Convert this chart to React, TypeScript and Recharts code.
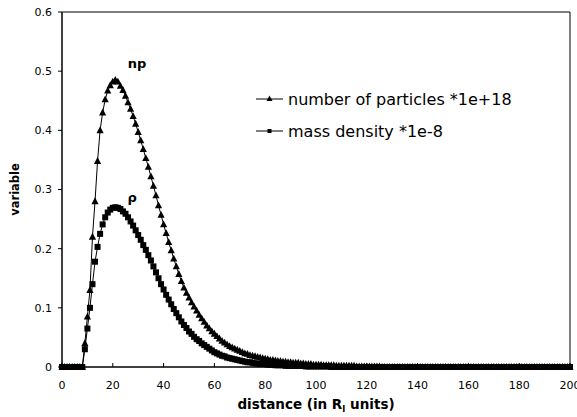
import {
  LineChart,
  Line,
  XAxis,
  YAxis,
  Legend,
  ReferenceArea,
  ReferenceDot,
} from 'recharts';

const distance = [
  0, 1, 2, 3, 4, 5, 6, 7, 8, 9,
  10, 11, 12, 13, 14, 15, 16, 17, 18, 19,
  20, 21, 22, 23, 24, 25, 26, 27, 28, 29,
  30, 31, 32, 33, 34, 35, 36, 37, 38, 39,
  40, 41, 42, 43, 44, 45, 46, 47, 48, 49,
  50, 51, 52, 53, 54, 55, 56, 57, 58, 59,
  60, 61, 62, 63, 64, 65, 66, 67, 68, 69,
  70, 71, 72, 73, 74, 75, 76, 77, 78, 79,
  80, 81, 82, 83, 84, 85, 86, 87, 88, 89,
  90, 91, 92, 93, 94, 95, 96, 97, 98, 99,
  100, 101, 102, 103, 104, 105, 106, 107, 108, 109,
  110, 111, 112, 113, 114, 115, 116, 117, 118, 119,
  120, 121, 122, 123, 124, 125, 126, 127, 128, 129,
  130, 131, 132, 133, 134, 135, 136, 137, 138, 139,
  140, 141, 142, 143, 144, 145, 146, 147, 148, 149,
  150, 151, 152, 153, 154, 155, 156, 157, 158, 159,
  160, 161, 162, 163, 164, 165, 166, 167, 168, 169,
  170, 171, 172, 173, 174, 175, 176, 177, 178, 179,
  180, 181, 182, 183, 184, 185, 186, 187, 188, 189,
  190, 191, 192, 193, 194, 195, 196, 197, 198, 199,
  200,
];

// number of particles *1e+18
const numberOfParticles = [
  0, 0, 0, 0, 0, 0, 0, 0, 0, 0.04,
  0.085, 0.13, 0.22, 0.28, 0.348, 0.4, 0.43, 0.452, 0.467, 0.476,
  0.482, 0.485, 0.482, 0.475, 0.468, 0.458, 0.447, 0.436, 0.424, 0.411,
  0.397, 0.383, 0.368, 0.353, 0.338, 0.322, 0.306, 0.29, 0.273, 0.257,
  0.241, 0.226, 0.211, 0.197, 0.183, 0.17, 0.157, 0.145, 0.134, 0.125,
  0.117, 0.109, 0.102, 0.095, 0.088, 0.082, 0.076, 0.07, 0.065, 0.06,
  0.056, 0.052, 0.048, 0.044, 0.041, 0.038, 0.035, 0.033, 0.031, 0.029,
  0.027, 0.025, 0.023, 0.022, 0.02, 0.019, 0.018, 0.017, 0.016, 0.015,
  0.014, 0.013, 0.012, 0.012, 0.011, 0.01, 0.01, 0.009, 0.009, 0.008,
  0.008, 0.007, 0.007, 0.007, 0.006, 0.006, 0.005, 0.005, 0.005, 0.004,
  0.004, 0.004, 0.004, 0.003, 0.003, 0.003, 0.003, 0.003, 0.002, 0.002,
  0.002, 0.002, 0.002, 0.002, 0.002, 0.002, 0.001, 0.001, 0.001, 0.001,
  0.001, 0.001, 0.001, 0.001, 0.001, 0.001, 0, 0, 0, 0,
  0, 0, 0, 0, 0, 0, 0, 0, 0, 0,
  0, 0, 0, 0, 0, 0, 0, 0, 0, 0,
  0, 0, 0, 0, 0, 0, 0, 0, 0, 0,
  0, 0, 0, 0, 0, 0, 0, 0, 0, 0,
  0, 0, 0, 0, 0, 0, 0, 0, 0, 0,
  0, 0, 0, 0, 0, 0, 0, 0, 0, 0,
  0, 0, 0, 0, 0, 0, 0, 0, 0, 0,
  0,
];

// mass density *1e-8
const massDensity = [
  0, 0, 0, 0, 0, 0, 0, 0, 0, 0.03,
  0.065, 0.1, 0.14, 0.178, 0.203, 0.225, 0.241, 0.253, 0.261, 0.266,
  0.269, 0.27, 0.269, 0.267, 0.263, 0.259, 0.253, 0.246, 0.239, 0.231,
  0.223, 0.215, 0.206, 0.198, 0.189, 0.18, 0.17, 0.16, 0.15, 0.14,
  0.131, 0.122, 0.114, 0.106, 0.098, 0.091, 0.084, 0.077, 0.071, 0.066,
  0.06, 0.056, 0.051, 0.047, 0.044, 0.04, 0.037, 0.034, 0.031, 0.028,
  0.025, 0.023, 0.021, 0.019, 0.018, 0.016, 0.015, 0.014, 0.013, 0.012,
  0.011, 0.01, 0.009, 0.008, 0.008, 0.007, 0.006, 0.006, 0.005, 0.005,
  0.005, 0.004, 0.004, 0.004, 0.003, 0.003, 0.003, 0.003, 0.002, 0.002,
  0.002, 0.002, 0.002, 0.002, 0.002, 0.002, 0.001, 0.001, 0.001, 0.001,
  0.001, 0.001, 0.001, 0.001, 0.001, 0.001, 0, 0, 0, 0,
  0, 0, 0, 0, 0, 0, 0, 0, 0, 0,
  0, 0, 0, 0, 0, 0, 0, 0, 0, 0,
  0, 0, 0, 0, 0, 0, 0, 0, 0, 0,
  0, 0, 0, 0, 0, 0, 0, 0, 0, 0,
  0, 0, 0, 0, 0, 0, 0, 0, 0, 0,
  0, 0, 0, 0, 0, 0, 0, 0, 0, 0,
  0, 0, 0, 0, 0, 0, 0, 0, 0, 0,
  0, 0, 0, 0, 0, 0, 0, 0, 0, 0,
  0, 0, 0, 0, 0, 0, 0, 0, 0, 0,
  0,
];

const xTicks = [0, 20, 40, 60, 80, 100, 120, 140, 160, 180, 200];
const yTicks = [0, 0.1, 0.2, 0.3, 0.4, 0.5, 0.6];
const seriesNames = ['number of particles *1e+18', 'mass density *1e-8'];
const curveLabels = [
  { text: 'np', x: 29.5, y: 0.513 },
  { text: 'ρ', x: 27.6, y: 0.287 },
];

const data = distance.map((d, i) => ({
  distance: d,
  np: numberOfParticles[i],
  rho: massDensity[i],
}));

const FONT = '"DejaVu Sans", sans-serif';

const TriangleDot = (props: any) => {
  const { cx, cy } = props;
  if (cx == null || cy == null) return null;
  return (
    <path
      d={`M${cx},${cy - 4}L${cx + 3.6},${cy + 2.8}L${cx - 3.6},${cy + 2.8}Z`}
      fill="#000"
    />
  );
};

const SquareDot = (props: any) => {
  const { cx, cy } = props;
  if (cx == null || cy == null) return null;
  return <rect x={cx - 3} y={cy - 3} width={6} height={6} fill="#000" />;
};

const XTitle = (props: any) => {
  const { x, y, width, height } = props.viewBox;
  return (
    <text
      x={x + width / 2}
      y={y + height - 8}
      textAnchor="middle"
      fontFamily={FONT}
      fontSize={13.5}
      fontWeight="bold"
      fill="#000"
    >
      distance (in R
      <tspan dy={3} fontSize={9}>
        l
      </tspan>
      <tspan dy={-3}> units)</tspan>
    </text>
  );
};

const LegendContent = () => (
  <div style={{ fontFamily: FONT, fontSize: 16, color: '#000' }}>
    {seriesNames.map((name, i) => (
      <div
        key={name}
        style={{ display: 'flex', alignItems: 'center', height: 32 }}
      >
        <svg width={28} height={12}>
          <line x1={0} y1={6} x2={27} y2={6} stroke="#000" />
          {i === 0 ? (
            <path d="M13.5,2.5L16.5,8L10.5,8Z" fill="#000" />
          ) : (
            <rect x={11.5} y={4} width={4} height={4} fill="#000" />
          )}
        </svg>
        <span style={{ marginLeft: 4, whiteSpace: 'nowrap' }}>{name}</span>
      </div>
    ))}
  </div>
);

const App = () => {
  return (
    <div
      style={{
        position: 'absolute',
        left: 0,
        top: 0,
        width: 577,
        height: 417,
        overflow: 'hidden',
        background: '#fff',
      }}
    >
      <LineChart
        width={577}
        height={417}
        data={data}
        margin={{ top: 12, right: 7, bottom: 0, left: 0 }}
      >
        <XAxis
          type="number"
          dataKey="distance"
          domain={[0, 200]}
          ticks={xTicks}
          interval={0}
          height={50}
          tickSize={-4}
          tickMargin={18}
          stroke="#000"
          tick={{ fill: '#000', fontSize: 11, fontFamily: FONT }}
          label={<XTitle />}
        />
        <YAxis
          type="number"
          domain={[0, 0.6]}
          ticks={yTicks}
          interval={0}
          width={62}
          tickSize={4}
          tickMargin={6}
          stroke="#000"
          tick={{ fill: '#000', fontSize: 11, fontFamily: FONT }}
          label={{
            value: 'variable',
            angle: -90,
            position: 'center',
            dx: -16,
            fontFamily: FONT,
            fontSize: 11.5,
            fontWeight: 'bold',
            fill: '#000',
          }}
        />
        <ReferenceArea
          x1={0}
          x2={200}
          y1={0}
          y2={0.6}
          fill="none"
          stroke="#000"
          strokeWidth={1}
          ifOverflow="visible"
        />
        <Line
          dataKey="np"
          stroke="#000"
          strokeWidth={1}
          dot={<TriangleDot />}
          activeDot={false}
          isAnimationActive={false}
        />
        <Line
          dataKey="rho"
          stroke="#000"
          strokeWidth={1}
          dot={<SquareDot />}
          activeDot={false}
          isAnimationActive={false}
        />
        {curveLabels.map((l) => (
          <ReferenceDot
            key={l.text}
            x={l.x}
            y={l.y}
            r={0}
            fill="none"
            stroke="none"
            label={{
              value: l.text,
              position: 'center',
              fontFamily: FONT,
              fontSize: 13,
              fontWeight: 'bold',
              fill: '#000',
            }}
          />
        ))}
        <Legend
          content={LegendContent}
          layout="horizontal"
          verticalAlign="middle"
          align="center"
          wrapperStyle={{ left: 256, top: 83, width: 300 }}
        />
      </LineChart>
    </div>
  );
};

export default App;
